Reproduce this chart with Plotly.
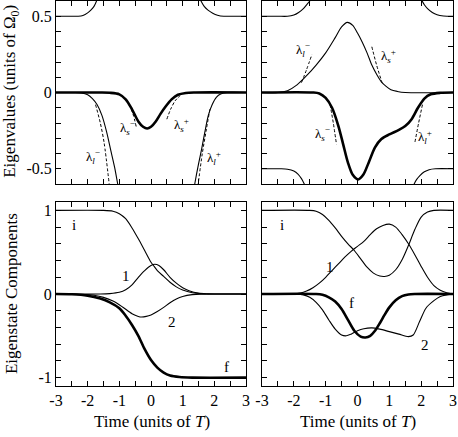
import plotly.graph_objects as go

# ---- ticks (labelled ones + small unlabelled ones)
x_tickvals = [-3, -2, -1, 0, 1, 2, 3]
x_ticktext = ["-3", "-2", "-1", "0", "1", "2", "3"]
x_minor = [-2.5, -1.5, -0.5, 0.5, 1.5, 2.5]
ev_tickvals = [-0.5, 0, 0.5]
ev_ticktext = ["-0.5", "0", "0.5"]
ev_minor = [-0.4, -0.3, -0.2, -0.1, 0.1, 0.2, 0.3, 0.4]
comp_tickvals = [-1, 0, 1]
comp_ticktext = ["-1", "0", "1"]
comp_minor = [-0.8, -0.6, -0.4, -0.2, 0.2, 0.4, 0.6, 0.8]

# ---- top left: eigenvalues
tl_up_left_t = [-3, -2.5, -2.3, -2.15, -2.0, -1.9, -1.8, -1.72, -1.66]
tl_up_left_v = [0.5, 0.5, 0.5, 0.505, 0.522, 0.54, 0.565, 0.6, 0.64]
tl_up_right_t = [1.5, 1.58, 1.68, 1.8, 1.95, 2.1, 2.3, 2.5, 3]
tl_up_right_v = [0.64, 0.6, 0.565, 0.54, 0.52, 0.507, 0.5, 0.5, 0.5]
tl_low_left_t = [-3, -2.4, -2.2, -2.0, -1.85, -1.7, -1.55, -1.4, -1.27, -1.15, -1.06, -0.98]
tl_low_left_v = [0, 0, -0.003, -0.015, -0.04, -0.08, -0.15, -0.26, -0.38, -0.49, -0.59, -0.68]
tl_low_right_t = [1.32, 1.39, 1.5, 1.6, 1.7, 1.81, 1.93, 2.07, 2.2, 2.4, 3]
tl_low_right_v = [-0.68, -0.59, -0.47, -0.37, -0.26, -0.15, -0.08, -0.03, -0.01, 0, 0]
tl_thick_t = [-3, -1.6, -1.3, -1.0, -0.8, -0.6, -0.4, -0.25, -0.12, 0.0, 0.15, 0.3, 0.45, 0.65, 0.85, 1.1, 1.4, 3]
tl_thick_v = [0, 0, -0.002, -0.012, -0.045, -0.11, -0.19, -0.225, -0.236, -0.225, -0.19, -0.14, -0.095, -0.045, -0.015, -0.003, 0, 0]
tl_dash_lm_t = [-1.75, -1.6, -1.48, -1.32]
tl_dash_lm_v = [-0.08, -0.2, -0.33, -0.6]
tl_dash_lp_t = [1.86, 1.75, 1.62, 1.49]
tl_dash_lp_v = [-0.11, -0.24, -0.4, -0.6]
tl_dash_sm_t = [-0.68, -0.57, -0.46]
tl_dash_sm_v = [-0.08, -0.14, -0.23]
tl_dash_sp_t = [0.5, 0.62, 0.76, 0.92]
tl_dash_sp_v = [-0.175, -0.11, -0.055, -0.02]

# ---- top right: eigenvalues
tr_up_left_t = [-3, -2.5, -2.2, -2.0, -1.85, -1.7, -1.58, -1.5, -1.44]
tr_up_left_v = [0.5, 0.5, 0.5, 0.508, 0.525, 0.55, 0.58, 0.6, 0.625]
tr_up_right_t = [1.95, 2.03, 2.1, 2.2, 2.35, 2.5, 2.7, 3]
tr_up_right_v = [0.63, 0.6, 0.575, 0.55, 0.525, 0.51, 0.502, 0.5]
tr_low_left_t = [-3, -2.4, -2.2, -2.0, -1.87, -1.76, -1.67, -1.6]
tr_low_left_v = [-0.5, -0.5, -0.503, -0.515, -0.535, -0.565, -0.6, -0.63]
tr_low_right_t = [1.72, 1.78, 1.86, 1.96, 2.1, 2.25, 2.45, 3]
tr_low_right_v = [-0.63, -0.6, -0.57, -0.545, -0.52, -0.506, -0.5, -0.5]
tr_thin_t = [-3, -2.5, -2.2, -1.9, -1.6, -1.3, -1.0, -0.7, -0.5, -0.32, -0.15, 0.0, 0.15, 0.3, 0.45, 0.6, 0.75, 0.9, 1.05, 1.25, 1.5, 3]
tr_thin_v = [0, 0, 0.012, 0.05, 0.11, 0.18, 0.26, 0.36, 0.43, 0.46, 0.44, 0.39, 0.33, 0.26, 0.18, 0.12, 0.07, 0.04, 0.018, 0.007, 0.0, 0]
tr_thick_t = [-3, -1.4, -1.2, -1.0, -0.8, -0.6, -0.45, -0.3, -0.15, 0.02, 0.18, 0.35, 0.55, 0.75, 1.0, 1.3, 1.5, 1.7, 1.9, 2.1, 2.3, 2.6, 3]
tr_thick_v = [0, 0, -0.006, -0.035, -0.10, -0.22, -0.34, -0.46, -0.54, -0.57, -0.54, -0.46, -0.36, -0.305, -0.275, -0.245, -0.22, -0.175, -0.10, -0.04, -0.012, -0.002, 0]
tr_dash_lm_t = [-1.76, -1.6, -1.43]
tr_dash_lm_v = [0.065, 0.15, 0.25]
tr_dash_sp_t = [0.45, 0.6, 0.77]
tr_dash_sp_v = [0.30, 0.18, 0.065]
tr_dash_sm_t = [-0.86, -0.76, -0.66]
tr_dash_sm_v = [-0.08, -0.2, -0.34]
tr_dash_lp_t = [2.04, 1.92, 1.8]
tr_dash_lp_v = [-0.08, -0.2, -0.33]

# ---- bottom left: eigenstate components
bl_i_t = [-3, -1.5, -1.2, -1.0, -0.8, -0.6, -0.4, -0.2, 0.0, 0.1, 0.2, 0.4, 0.6, 0.8, 1.0, 1.3, 1.6, 2.0, 3]
bl_i_v = [1, 1, 0.99, 0.96, 0.9, 0.79, 0.66, 0.52, 0.38, 0.33, 0.28, 0.21, 0.14, 0.085, 0.048, 0.015, 0.003, 0, 0]
bl_1_t = [-3, -1.6, -1.3, -1.0, -0.8, -0.6, -0.4, -0.2, 0.0, 0.12, 0.25, 0.4, 0.6, 0.8, 1.0, 1.2, 1.5, 1.8, 2.0, 3]
bl_1_v = [0, 0, 0.005, 0.02, 0.05, 0.11, 0.2, 0.28, 0.34, 0.355, 0.34, 0.29, 0.2, 0.13, 0.075, 0.04, 0.01, 0.002, 0, 0]
bl_2_t = [-3, -2.2, -1.8, -1.5, -1.2, -0.9, -0.6, -0.4, -0.3, -0.15, 0.0, 0.2, 0.4, 0.6, 0.8, 1.0, 1.3, 1.6, 2.0, 3]
bl_2_v = [0, -0.003, -0.015, -0.04, -0.085, -0.155, -0.235, -0.268, -0.275, -0.268, -0.25, -0.21, -0.16, -0.105, -0.06, -0.03, -0.008, -0.001, 0, 0]
bl_f_t = [-3, -2.5, -2.0, -1.6, -1.3, -1.0, -0.8, -0.6, -0.4, -0.2, 0.0, 0.2, 0.4, 0.6, 0.9, 1.3, 3]
bl_f_v = [0, -0.003, -0.02, -0.055, -0.1, -0.17, -0.26, -0.37, -0.5, -0.66, -0.79, -0.88, -0.94, -0.975, -0.993, -1.0, -1.0]

# ---- bottom right: eigenstate components
br_i_t = [-3, -1.5, -1.3, -1.1, -0.9, -0.7, -0.5, -0.3, -0.1, 0.1, 0.3, 0.5, 0.7, 0.85, 1.0, 1.2, 1.4, 1.6, 1.8, 2.0, 2.2, 2.4, 3]
br_i_v = [1, 1, 0.99, 0.95, 0.88, 0.79, 0.69, 0.6, 0.52, 0.42, 0.32, 0.25, 0.215, 0.21, 0.225, 0.29, 0.41, 0.58, 0.77, 0.92, 0.98, 1.0, 1]
br_1_t = [-3, -2.0, -1.8, -1.6, -1.4, -1.2, -1.0, -0.8, -0.6, -0.4, -0.2, 0.0, 0.2, 0.4, 0.6, 0.8, 1.0, 1.2, 1.4, 1.6, 1.8, 2.0, 2.2, 2.4, 2.6, 2.8, 3.0]
br_1_v = [0, 0, 0.01, 0.035, 0.075, 0.13, 0.2, 0.28, 0.36, 0.44, 0.51, 0.57, 0.63, 0.71, 0.78, 0.82, 0.835, 0.8, 0.71, 0.6, 0.47, 0.33, 0.2, 0.1, 0.045, 0.015, 0]
br_2_t = [-3, -2.0, -1.7, -1.5, -1.3, -1.1, -0.9, -0.7, -0.5, -0.35, -0.2, 0.0, 0.2, 0.45, 0.7, 1.0, 1.3, 1.6, 1.75, 1.95, 2.15, 2.4, 2.6, 2.8, 3.0]
br_2_v = [0, -0.002, -0.01, -0.04, -0.1, -0.19, -0.31, -0.42, -0.49, -0.5, -0.48, -0.44, -0.415, -0.405, -0.42, -0.45, -0.48, -0.51, -0.49, -0.33, -0.17, -0.08, -0.03, -0.01, 0]
br_f_t = [-3, -1.3, -1.1, -0.9, -0.7, -0.5, -0.3, -0.1, 0.1, 0.25, 0.4, 0.55, 0.7, 0.85, 1.0, 1.2, 1.4, 1.6, 1.8, 3]
br_f_v = [0, 0, -0.01, -0.04, -0.09, -0.18, -0.31, -0.44, -0.51, -0.52, -0.5, -0.44, -0.35, -0.25, -0.16, -0.075, -0.025, -0.005, 0, 0]

# ---- curve labels
lam_text = ["λ<sub><i>l</i></sub><sup>−</sup>", "λ<sub><i>s</i></sub><sup>−</sup>",
            "λ<sub><i>s</i></sub><sup>+</sup>", "λ<sub><i>l</i></sub><sup>+</sup>"]
tl_lab_t = [-1.83, -0.73, 0.95, 1.99]
tl_lab_v = [-0.42, -0.23, -0.21, -0.43]
tr_lab_text = [lam_text[0], lam_text[2], lam_text[1], lam_text[3]]
tr_lab_t = [-1.71, 0.97, -1.11, 2.12]
tr_lab_v = [0.28, 0.24, -0.27, -0.29]
comp_text = ["i", "1", "2", "f"]
bl_lab_t = [-2.43, -0.8, 0.65, 2.39]
bl_lab_v = [0.83, 0.21, -0.34, -0.87]
br_lab_t = [-2.37, -0.86, 2.12, -0.19]
br_lab_v = [0.82, 0.32, -0.61, -0.11]

FONT = "Liberation Serif"
THIN = 1.1
THICK = 2.6

fig = go.Figure()


def add_line(t, v, ax, width=THIN, dash="solid"):
    fig.add_trace(go.Scatter(
        x=t, y=v, mode="lines", xaxis="x" + ax, yaxis="y" + ax,
        line=dict(color="black", width=width, dash=dash, shape="spline", smoothing=0.8),
        showlegend=False, hoverinfo="skip"))


# top left
add_line(tl_up_left_t, tl_up_left_v, "")
add_line(tl_up_right_t, tl_up_right_v, "")
add_line(tl_low_left_t, tl_low_left_v, "")
add_line(tl_low_right_t, tl_low_right_v, "")
add_line(tl_thick_t, tl_thick_v, "", THICK)
for t, v in [(tl_dash_lm_t, tl_dash_lm_v), (tl_dash_lp_t, tl_dash_lp_v),
             (tl_dash_sm_t, tl_dash_sm_v), (tl_dash_sp_t, tl_dash_sp_v)]:
    add_line(t, v, "", 1, "3px,2px")

# top right
add_line(tr_up_left_t, tr_up_left_v, "2")
add_line(tr_up_right_t, tr_up_right_v, "2")
add_line(tr_low_left_t, tr_low_left_v, "2")
add_line(tr_low_right_t, tr_low_right_v, "2")
add_line(tr_thin_t, tr_thin_v, "2")
add_line(tr_thick_t, tr_thick_v, "2", THICK)
for t, v in [(tr_dash_lm_t, tr_dash_lm_v), (tr_dash_sp_t, tr_dash_sp_v),
             (tr_dash_sm_t, tr_dash_sm_v), (tr_dash_lp_t, tr_dash_lp_v)]:
    add_line(t, v, "2", 1, "3px,2px")

# bottom left
add_line(bl_i_t, bl_i_v, "3")
add_line(bl_1_t, bl_1_v, "3")
add_line(bl_2_t, bl_2_v, "3")
add_line(bl_f_t, bl_f_v, "3", THICK)

# bottom right
add_line(br_i_t, br_i_v, "4")
add_line(br_1_t, br_1_v, "4")
add_line(br_2_t, br_2_v, "4")
add_line(br_f_t, br_f_v, "4", THICK)

annotations = []


def add_labels(texts, ts, vs, ax, size):
    for txt, t, v in zip(texts, ts, vs):
        annotations.append(dict(text=txt, x=t, y=v, xref="x" + ax, yref="y" + ax,
                                showarrow=False, font=dict(family=FONT, size=size, color="black")))


add_labels(lam_text, tl_lab_t, tl_lab_v, "", 13)
add_labels(tr_lab_text, tr_lab_t, tr_lab_v, "2", 13)
add_labels(comp_text, bl_lab_t, bl_lab_v, "3", 15)
add_labels(comp_text, br_lab_t, br_lab_v, "4", 15)

title_font = dict(family=FONT, size=17, color="black")
annotations += [
    dict(text="Eigenvalues (units of Ω<sub>0</sub>)", x=11 / 458, y=0.79, xref="paper", yref="paper",
         xanchor="center", yanchor="middle", textangle=-90, showarrow=False, font=title_font),
    dict(text="Eigenstate Components", x=11 / 458, y=0.327, xref="paper", yref="paper",
         xanchor="center", yanchor="middle", textangle=-90, showarrow=False, font=title_font),
    dict(text="Time (units of <i>T</i>)", x=152 / 458, y=1 - 421 / 437, xref="paper", yref="paper",
         xanchor="center", yanchor="middle", showarrow=False, font=title_font),
    dict(text="Time (units of <i>T</i>)", x=358 / 458, y=1 - 421 / 437, xref="paper", yref="paper",
         xanchor="center", yanchor="middle", showarrow=False, font=title_font),
]

axis_common = dict(showline=True, linecolor="black", linewidth=1, mirror="ticks",
                   ticks="inside", ticklen=5, tickwidth=1, tickcolor="black",
                   showgrid=False, zeroline=False, tickmode="array",
                   tickfont=dict(family=FONT, size=16, color="black"))


def minor(vals):
    return dict(tickmode="array", tickvals=vals, ticks="inside", ticklen=5,
                tickwidth=1, tickcolor="black", showgrid=False)


x_left = [56 / 458, 246 / 458]
x_right = [262 / 458, 453 / 458]
y_top = [1 - 184 / 437, 1 - 1 / 437]
y_bot = [1 - 386 / 437, 1 - 202 / 437]

xa = dict(range=[-3, 3], tickvals=x_tickvals, ticktext=x_ticktext, minor=minor(x_minor), **axis_common)
ya_ev = dict(range=[-0.6, 0.6], tickvals=ev_tickvals, ticktext=ev_ticktext, minor=minor(ev_minor), **axis_common)
ya_comp = dict(range=[-1.1, 1.1], tickvals=comp_tickvals, ticktext=comp_ticktext, minor=minor(comp_minor), **axis_common)

fig.update_layout(
    width=458, height=437,
    margin=dict(l=0, r=0, t=0, b=0, autoexpand=False),
    paper_bgcolor="white", plot_bgcolor="white",
    xaxis=dict(domain=x_left, anchor="y", showticklabels=False, **xa),
    xaxis2=dict(domain=x_right, anchor="y2", showticklabels=False, **xa),
    xaxis3=dict(domain=x_left, anchor="y3", **xa),
    xaxis4=dict(domain=x_right, anchor="y4", **xa),
    yaxis=dict(domain=y_top, anchor="x", **ya_ev),
    yaxis2=dict(domain=y_top, anchor="x2", showticklabels=False, **ya_ev),
    yaxis3=dict(domain=y_bot, anchor="x3", **ya_comp),
    yaxis4=dict(domain=y_bot, anchor="x4", showticklabels=False, **ya_comp),
    annotations=annotations,
)

# the page body has a default 8px margin; drop it so the figure fills the window
fig.write_html("out.html", config={"displayModeBar": False},
               post_script="document.body.style.margin='0px';")
